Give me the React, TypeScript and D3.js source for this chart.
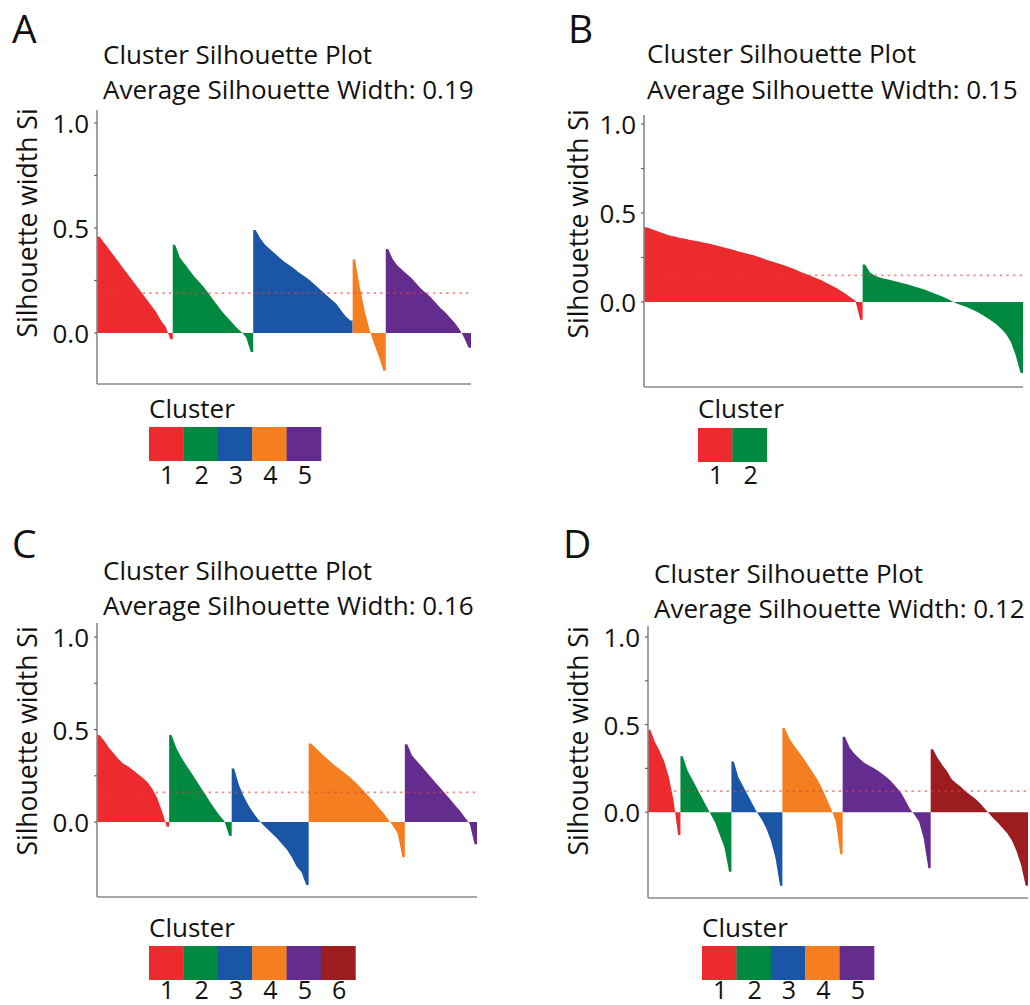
import React from "react";
import * as d3 from "d3";

// ---------- DATA ----------
const clusterColors = ["#ED2A2E", "#00893F", "#1B55A5", "#F47E20", "#652C90", "#9D1C20"];
const yTickValues = [0, 0.25, 0.5, 0.75, 1.0];
const yTickLabels = ["0.0", "", "0.5", "", "1.0"];

// Panel A (5 clusters), avg 0.19
const A_c1 = [0.46, 0.43, 0.40, 0.37, 0.34, 0.31, 0.28, 0.25, 0.22, 0.19, 0.16, 0.13, 0.10, 0.06, 0.03, -0.03];
const A_c2 = [0.42, 0.36, 0.33, 0.30, 0.27, 0.245, 0.22, 0.19, 0.16, 0.13, 0.10, 0.075, 0.05, 0.025, 0.005, -0.02, -0.09];
const A_c3 = [0.49, 0.45, 0.42, 0.40, 0.38, 0.36, 0.34, 0.325, 0.31, 0.29, 0.275, 0.26, 0.24, 0.22, 0.20, 0.18, 0.16, 0.14, 0.11, 0.08, 0.06];
const A_c4 = [0.35, 0.22, 0.11, 0.02, -0.05, -0.11, -0.18];
const A_c5 = [0.40, 0.35, 0.32, 0.30, 0.28, 0.26, 0.235, 0.21, 0.19, 0.17, 0.145, 0.12, 0.10, 0.075, 0.05, 0.02, -0.02, -0.07];
const A_avg = 0.19;

// Panel B (2 clusters), avg 0.15
const B_c1 = [0.42, 0.41, 0.40, 0.39, 0.38, 0.372, 0.366, 0.36, 0.355, 0.349, 0.344, 0.339, 0.333, 0.327, 0.32, 0.313, 0.306, 0.299, 0.292, 0.284, 0.277, 0.27, 0.262, 0.254, 0.245, 0.235, 0.226, 0.217, 0.209, 0.2, 0.19, 0.178, 0.166, 0.156, 0.145, 0.134, 0.122, 0.108, 0.094, 0.08, 0.063, 0.046, 0.025, 0.008, -0.1];
const B_c2 = [0.21, 0.165, 0.148, 0.138, 0.13, 0.125, 0.118, 0.111, 0.104, 0.097, 0.089, 0.08, 0.072, 0.062, 0.051, 0.041, 0.029, 0.016, 0.003, -0.01, -0.02, -0.03, -0.042, -0.055, -0.07, -0.087, -0.105, -0.125, -0.15, -0.18, -0.225, -0.3, -0.4];
const B_avg = 0.15;

// Panel C (5 clusters drawn, 6 in legend), avg 0.16
const C_c1 = [0.47, 0.44, 0.40, 0.37, 0.34, 0.315, 0.30, 0.28, 0.26, 0.24, 0.215, 0.18, 0.13, 0.06, -0.025];
const C_c2 = [0.47, 0.40, 0.35, 0.31, 0.27, 0.23, 0.19, 0.15, 0.11, 0.07, 0.035, 0.005, -0.075];
const C_c3 = [0.29, 0.20, 0.14, 0.09, 0.05, 0.015, -0.015, -0.04, -0.065, -0.09, -0.12, -0.15, -0.19, -0.24, -0.27, -0.34];
const C_c4 = [0.425, 0.40, 0.375, 0.35, 0.328, 0.305, 0.285, 0.265, 0.245, 0.22, 0.195, 0.168, 0.14, 0.113, 0.08, 0.05, 0.015, -0.02, -0.06, -0.19];
const C_c5 = [0.42, 0.36, 0.33, 0.30, 0.27, 0.24, 0.21, 0.18, 0.15, 0.12, 0.09, 0.06, 0.025, -0.01, -0.12];
const C_avg = 0.16;

// Panel D (6 clusters drawn, 5 in legend), avg 0.12
const D_c1 = [0.47, 0.40, 0.35, 0.29, 0.20, 0.07, -0.13];
const D_c2 = [0.32, 0.24, 0.19, 0.14, 0.09, 0.04, -0.01, -0.06, -0.13, -0.20, -0.34];
const D_c3 = [0.29, 0.20, 0.15, 0.10, 0.05, 0.0, -0.04, -0.09, -0.16, -0.26, -0.42];
const D_c4 = [0.48, 0.42, 0.38, 0.345, 0.31, 0.27, 0.23, 0.19, 0.14, 0.08, 0.02, -0.05, -0.24];
const D_c5 = [0.43, 0.37, 0.335, 0.31, 0.285, 0.27, 0.255, 0.24, 0.22, 0.2, 0.175, 0.145, 0.115, 0.07, 0.02, -0.015, -0.055, -0.15, -0.32];
const D_c6 = [0.36, 0.31, 0.27, 0.235, 0.19, 0.165, 0.145, 0.12, 0.10, 0.08, 0.055, 0.025, -0.005, -0.035, -0.06, -0.09, -0.12, -0.16, -0.22, -0.30, -0.42];
const D_avg = 0.12;

const legendA = ["1", "2", "3", "4", "5"];
const legendB = ["1", "2"];
const legendC = ["1", "2", "3", "4", "5", "6"];
const legendD = ["1", "2", "3", "4", "5"];

// ---------- LAYOUT ----------
const FONT = "'Open Sans', 'Noto Sans', sans-serif";

type PanelCfg = {
  letter: string;
  letterX: number; letterY: number;
  titleX: number; titleY1: number; titleY2: number;
  avg: number;
  clusters: number[][];
  legend: string[];
  left: number; right: number; top: number; bottom: number;
  yMin: number; yMax: number;
  ylabX: number; ylabY: number;
  legX: number; legTitleY: number; legBoxY: number; legLabelY: number;
};

const panels: PanelCfg[] = [
  {
    letter: "A", letterX: 12, letterY: 43, titleX: 103, titleY1: 64, titleY2: 99,
    avg: A_avg, clusters: [A_c1, A_c2, A_c3, A_c4, A_c5], legend: legendA,
    left: 97, right: 471, top: 110, bottom: 384, yMin: -0.243, yMax: 1.062,
    ylabX: 27, ylabY: 223, legX: 149, legTitleY: 418, legBoxY: 427, legLabelY: 484,
  },
  {
    letter: "B", letterX: 568, letterY: 43, titleX: 647, titleY1: 63, titleY2: 99,
    avg: B_avg, clusters: [B_c1, B_c2], legend: legendB,
    left: 644, right: 1023, top: 115, bottom: 387, yMin: -0.478, yMax: 1.051,
    ylabX: 578, ylabY: 224, legX: 698, legTitleY: 418, legBoxY: 428, legLabelY: 484,
  },
  {
    letter: "C", letterX: 12, letterY: 558, titleX: 103, titleY1: 580, titleY2: 615,
    avg: C_avg, clusters: [C_c1, C_c2, C_c3, C_c4, C_c5], legend: legendC,
    left: 97, right: 477, top: 623, bottom: 897, yMin: -0.405, yMax: 1.076,
    ylabX: 27, ylabY: 741, legX: 149, legTitleY: 937, legBoxY: 946, legLabelY: 999,
  },
  {
    letter: "D", letterX: 563, letterY: 558, titleX: 654, titleY1: 583, titleY2: 618,
    avg: D_avg, clusters: [D_c1, D_c2, D_c3, D_c4, D_c5, D_c6], legend: legendD,
    left: 648, right: 1028, top: 626, bottom: 898, yMin: -0.49, yMax: 1.063,
    ylabX: 578, ylabY: 741, legX: 702, legTitleY: 937, legBoxY: 946, legLabelY: 999,
  },
];

const BOX_W = 34.4;
const BOX_H = 34;

function Panel({ p }: { p: PanelCfg }) {
  const total = d3.sum(p.clusters, (c) => c.length);
  const x = d3.scaleLinear().domain([0, total]).range([p.left, p.right]);
  const y = d3.scaleLinear().domain([p.yMin, p.yMax]).range([p.bottom, p.top]);
  const area = d3
    .area<{ i: number; v: number }>()
    .x((d) => x(d.i))
    .y0(() => y(0))
    .y1((d) => y(d.v));

  let offset = 0;
  const paths = p.clusters.map((vals, ci) => {
    const start = offset;
    offset += vals.length;
    const pts = [
      { i: start, v: vals[0] },
      ...vals.map((v, k) => ({ i: start + k + 0.5, v })),
      { i: start + vals.length, v: vals[vals.length - 1] },
    ];
    return <path key={ci} d={area(pts) || ""} fill={clusterColors[ci]} />;
  });

  return (
    <g>
      <text x={p.letterX} y={p.letterY} fontSize={39} fontFamily={FONT} fill="#111">{p.letter}</text>
      <text x={p.titleX} y={p.titleY1} fontSize={26} fontFamily={FONT} fill="#111">Cluster Silhouette Plot</text>
      <text x={p.titleX} y={p.titleY2} fontSize={26} fontFamily={FONT} fill="#111">
        {"Average Silhouette Width: " + p.avg.toFixed(2)}
      </text>
      {/* y-axis label */}
      <text
        transform={`translate(${p.ylabX},${p.ylabY}) rotate(-90)`}
        textAnchor="middle"
        dominantBaseline="central"
        fontSize={26.5}
        fontFamily={FONT}
        fill="#111"
      >
        Silhouette width Si
      </text>
      {paths}
      {/* average line */}
      <line
        x1={p.left + 6}
        x2={p.right}
        y1={y(p.avg)}
        y2={y(p.avg)}
        stroke="#E8403F"
        strokeOpacity={0.6}
        strokeWidth={1.8}
        strokeDasharray="2.4 4.2"
      />
      {/* axes */}
      <line x1={p.left} x2={p.left} y1={p.top} y2={p.bottom} stroke="#8a8a8a" strokeWidth={1.6} />
      <line x1={p.left} x2={p.right} y1={p.bottom} y2={p.bottom} stroke="#8a8a8a" strokeWidth={1.6} />
      {yTickValues.map((t, k) => (
        <g key={k}>
          <line x1={p.left - 3} x2={p.left} y1={y(t)} y2={y(t)} stroke="#666" strokeWidth={1.2} />
          {yTickLabels[k] && (
            <text
              x={p.left - 8}
              y={y(t)}
              textAnchor="end"
              dominantBaseline="central"
              fontSize={26}
              fontFamily={FONT}
              fill="#111"
            >
              {yTickLabels[k]}
            </text>
          )}
        </g>
      ))}
      {/* legend */}
      <text x={p.legX} y={p.legTitleY} fontSize={26} fontFamily={FONT} fill="#111">Cluster</text>
      {p.legend.map((lab, k) => (
        <g key={k}>
          <rect x={p.legX + k * BOX_W} y={p.legBoxY} width={BOX_W + 0.3} height={BOX_H} fill={clusterColors[k]} />
          <text
            x={p.legX + k * BOX_W + BOX_W / 2 + 1}
            y={p.legLabelY}
            textAnchor="middle"
            fontSize={25}
            fontFamily={FONT}
            fill="#111"
          >
            {lab}
          </text>
        </g>
      ))}
    </g>
  );
}

export default function App() {
  return (
    <svg
      width={1030}
      height={1005}
      style={{ position: "absolute", left: 0, top: 0, background: "#fff" }}
    >
      <rect width={1030} height={1005} fill="#fff" />
      {panels.map((p) => (
        <Panel key={p.letter} p={p} />
      ))}
    </svg>
  );
}
